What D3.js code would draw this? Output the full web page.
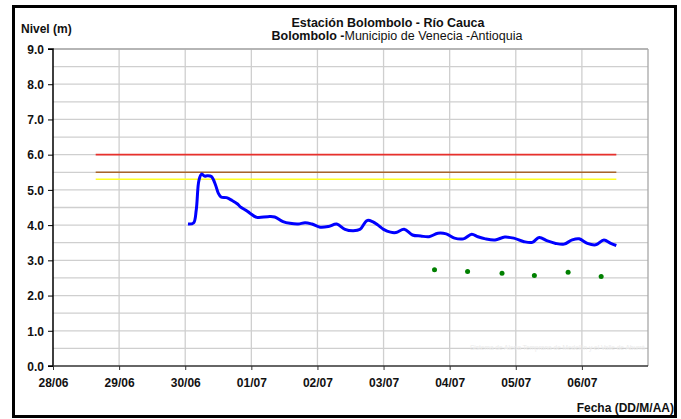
<!DOCTYPE html>
<html><head><meta charset="utf-8">
<script src="https://cdn.jsdelivr.net/npm/d3@7"></script>
<style>
html,body{margin:0;padding:0;background:#fff;}
svg{display:block;font-family:"Liberation Sans",Arial,sans-serif;}
</style></head>
<body><svg id="c" width="681" height="419"></svg>
<script>
// ---- data ----
const seriesTimes = ["30/06 01:00","30/06 03:00","30/06 04:00","30/06 05:00","30/06 06:00","30/06 07:00","30/06 08:00","30/06 09:30","30/06 11:00","30/06 12:00","30/06 13:00","30/06 15:00","30/06 17:00","30/06 19:00","30/06 20:00","30/06 22:00","30/06 23:30",
"01/07 02:00","01/07 06:00","01/07 08:30","01/07 11:30","01/07 14:00","01/07 17:00","01/07 19:30","01/07 22:00",
"02/07 01:00","02/07 04:00","02/07 07:00","02/07 10:00","02/07 13:00","02/07 15:30","02/07 18:00","02/07 20:00","02/07 22:00",
"03/07 00:00","03/07 02:30","03/07 04:30","03/07 07:30","03/07 10:30","03/07 13:30","03/07 16:30","03/07 19:45","03/07 22:45",
"04/07 01:45","04/07 05:00","04/07 08:00","04/07 10:15","04/07 13:00","04/07 16:30","04/07 20:00","04/07 23:15",
"05/07 03:00","05/07 06:00","05/07 08:30","05/07 11:30","05/07 14:30","05/07 17:30","05/07 20:30","05/07 23:00",
"06/07 02:00","06/07 05:00","06/07 08:00","06/07 10:30","06/07 12:30"];
const seriesLevels = [4.03,4.06,4.43,5.28,5.45,5.39,5.40,5.38,5.14,4.91,4.80,4.78,4.70,4.60,4.52,4.42,4.34,
4.22,4.24,4.23,4.10,4.05,4.03,4.07,4.03,
3.94,3.96,4.03,3.88,3.84,3.88,4.13,4.10,4.00,
3.88,3.80,3.79,3.88,3.72,3.69,3.67,3.77,3.75,
3.63,3.61,3.74,3.67,3.61,3.58,3.66,3.63,
3.53,3.51,3.65,3.55,3.48,3.46,3.58,3.61,
3.48,3.44,3.58,3.48,3.42];
const pointTimes = ["03/07 18:30","04/07 06:30","04/07 19:00","05/07 06:45","05/07 19:00","06/07 07:00"];
const pointLevels = [2.73,2.68,2.63,2.57,2.66,2.54];
const thresholdNames = ["Roja","Naranja","Amarilla"];
const thresholdLevels = [6.0,5.5,5.3];
const thresholdColors = ["#e8302c","#a8642a","#ffff22"];
const thresholdSpan = ["28/06 15:30","06/07 12:30"];
const xDomain = ["28/06 00:00","07/07 00:00"];
const yTicks = [0,1,2,3,4,5,6,7,8,9];
const yGrid = [0.5,1,1.5,2,2.5,3,3.5,4,4.5,5,5.5,6,6.5,7,7.5,8,8.5,9];

// ---- drawing ----
const parse = d3.timeParse("%d/%m %H:%M");
const svg = d3.select("#c");
const L = 53, R = 648, T = 49, B = 366;
const x = d3.scaleTime().domain(xDomain.map(parse)).range([L, R]);
const y = d3.scaleLinear().domain([0, 9]).range([B, T]);

// frame
svg.append("rect").attr("x",13.5).attr("y",6.5).attr("width",662).attr("height",410)
  .attr("fill","#fff").attr("stroke","#000").attr("stroke-width",3);

// grid
const days = d3.timeDay.range(parse(xDomain[0]), d3.timeDay.offset(parse(xDomain[1]),1));
svg.append("g").selectAll("line").data(yGrid).join("line")
  .attr("x1",L).attr("x2",R).attr("y1",d=>y(d)).attr("y2",d=>y(d))
  .attr("stroke","#cfcfcf").attr("stroke-width",1.3);
svg.append("g").selectAll("line").data(days.slice(1,-1)).join("line")
  .attr("x1",d=>x(d)).attr("x2",d=>x(d)).attr("y1",T).attr("y2",B)
  .attr("stroke","#cfcfcf").attr("stroke-width",1.3);
svg.append("line").attr("x1",R).attr("x2",R).attr("y1",T).attr("y2",B)
  .attr("stroke","#a8a8a8").attr("stroke-width",1.3);
svg.append("line").attr("x1",L).attr("x2",R).attr("y1",T).attr("y2",T)
  .attr("stroke","#a8a8a8").attr("stroke-width",1.3);

// faint watermark
svg.append("text").attr("x",470).attr("y",350).attr("textLength",175).attr("lengthAdjust","spacingAndGlyphs")
  .attr("font-size",7).attr("fill","#ececec").text("Sistema de Alerta Temprana de Medellín y el Valle de Aburrá");

// thresholds
svg.append("g").selectAll("line").data(thresholdLevels).join("line")
  .attr("x1",x(parse(thresholdSpan[0]))).attr("x2",x(parse(thresholdSpan[1])))
  .attr("y1",d=>y(d)).attr("y2",d=>y(d))
  .attr("stroke",(d,i)=>thresholdColors[i]).attr("stroke-width",1.6);

// series
const data = seriesTimes.map((t,i)=>({t:parse(t), v:seriesLevels[i]}));
svg.append("path").datum(data)
  .attr("d", d3.line().x(d=>x(d.t)).y(d=>y(d.v)).curve(d3.curveCatmullRom.alpha(0.5)))
  .attr("fill","none").attr("stroke","#0000ff").attr("stroke-width",3).attr("stroke-linejoin","round");

svg.append("g").selectAll("circle").data(pointTimes).join("circle")
  .attr("cx",d=>x(parse(d))).attr("cy",(d,i)=>y(pointLevels[i])).attr("r",2.5).attr("fill","#008000");

// axes
const yAxis = d3.axisLeft(y).tickValues(yTicks).tickFormat(d3.format(".1f")).tickSize(5).tickPadding(4);
const gy = svg.append("g").attr("transform",`translate(${L},0)`).call(yAxis);
gy.select(".domain").attr("stroke","#000").attr("stroke-width",1.5).attr("d",`M-5,${T}H0V${B}H-5`);
gy.selectAll(".tick line").attr("stroke","#000");
gy.selectAll("text").attr("font-size",12).attr("font-weight","bold").attr("fill","#111")
  .attr("font-family","Liberation Sans, Arial, sans-serif").attr("dy","0.36em");

const xAxis = d3.axisBottom(x).tickValues(days.slice(0,-1)).tickFormat(d3.timeFormat("%d/%m")).tickSize(4).tickPadding(8);
const gx = svg.append("g").attr("transform",`translate(0,${B})`).call(xAxis);
gx.select(".domain").attr("stroke","#333").attr("stroke-width",1.5).attr("d",`M${L},0H${R}`);
gx.selectAll(".tick line").attr("stroke","#333");
gx.selectAll("text").attr("font-size",12).attr("font-weight","bold").attr("fill","#111")
  .attr("font-family","Liberation Sans, Arial, sans-serif");

// labels
svg.append("text").attr("x",21).attr("y",33).attr("font-size",12).attr("font-weight","bold")
  .attr("fill","#111").text("Nivel (m)");
svg.append("text").attr("x",674).attr("y",412).attr("text-anchor","end").attr("font-size",12)
  .attr("font-weight","bold").attr("fill","#111").text("Fecha (DD/M/AA)");
svg.append("text").attr("x",388).attr("y",27).attr("text-anchor","middle").attr("font-size",12.5)
  .attr("font-weight","bold").attr("fill","#111").text("Estación Bolombolo - Río Cauca");
const st = svg.append("text").attr("x",397).attr("y",40).attr("text-anchor","middle").attr("font-size",12.5).attr("fill","#111");
st.append("tspan").attr("font-weight","bold").text("Bolombolo -");
st.append("tspan").text("Municipio de Venecia -Antioquia");
</script></body></html>
